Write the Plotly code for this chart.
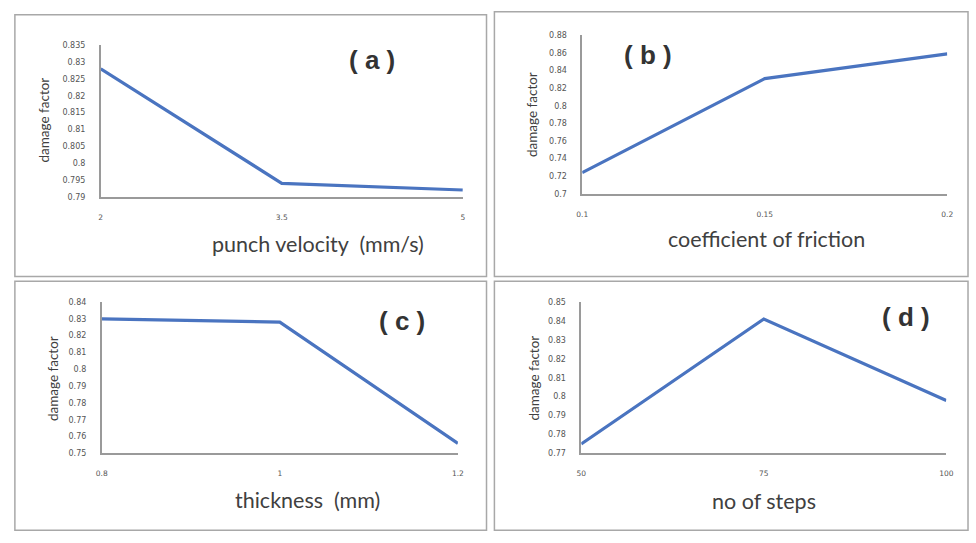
import plotly.graph_objects as go

W, H = 976, 543

# ---- data ----
velocity = [2, 3.5, 5]
damage_velocity = [0.828, 0.794, 0.792]

friction = [0.1, 0.15, 0.2]
damage_friction = [0.724, 0.831, 0.859]

thickness = [0.8, 1, 1.2]
damage_thickness = [0.830, 0.828, 0.756]

steps = [50, 75, 100]
damage_steps = [0.775, 0.841, 0.798]

vel_ticks = ["2", "3.5", "5"]
fric_ticks = ["0.1", "0.15", "0.2"]
thick_ticks = ["0.8", "1", "1.2"]
step_ticks = ["50", "75", "100"]

yt_a = [0.79, 0.795, 0.8, 0.805, 0.81, 0.815, 0.82, 0.825, 0.83, 0.835]
yt_b = [0.7, 0.72, 0.74, 0.76, 0.78, 0.8, 0.82, 0.84, 0.86, 0.88]
yt_c = [0.75, 0.76, 0.77, 0.78, 0.79, 0.8, 0.81, 0.82, 0.83, 0.84]
yt_d = [0.77, 0.78, 0.79, 0.8, 0.81, 0.82, 0.83, 0.84, 0.85]


def fmt(v):
    return f"{v:.3f}".rstrip("0").rstrip(".")


# panel layout in pixels: plot box (x0, x1, ytop, ybottom), frame, tag and title positions
panels = [
    dict(x=velocity, y=damage_velocity, xt=vel_ticks, yt=yt_a,
         box=(96, 463, 42, 196), frame=(9, 487, 11, 277),
         tag="a", tagpos=(371, 57), title="punch velocity  (mm/s)", titlepos=(316, 244),
         ytitlepos=(39, 118)),
    dict(x=friction, y=damage_friction, xt=fric_ticks, yt=yt_b,
         box=(584, 954, 32, 193), frame=(495, 975, 8, 277),
         tag="b", tagpos=(651, 52), title="coefficient of friction", titlepos=(771, 239),
         ytitlepos=(533, 112)),
    dict(x=thickness, y=damage_thickness, xt=thick_ticks, yt=yt_c,
         box=(97, 458, 303, 457), frame=(9, 487, 282, 535),
         tag="c", tagpos=(401, 322), title="thickness  (mm)", titlepos=(306, 504),
         ytitlepos=(47, 381)),
    dict(x=steps, y=damage_steps, xt=step_ticks, yt=yt_d,
         box=(583, 953, 303, 457), frame=(495, 975, 282, 535),
         tag="d", tagpos=(912, 318), title="no of steps", titlepos=(768, 505),
         ytitlepos=(535, 380)),
]

fig = go.Figure()
layout = dict(
    width=W, height=H, margin=dict(l=0, r=0, t=0, b=0),
    paper_bgcolor="white", plot_bgcolor="white", showlegend=False,
    shapes=[], annotations=[],
)

LINE = "#4a74c0"
AX = "#9a9a9a"
TXT = "#404040"

for i, p in enumerate(panels, start=1):
    sfx = "" if i == 1 else str(i)
    x0, x1, yt0, yb0 = p["box"]
    fig.add_trace(go.Scatter(
        x=p["x"], y=p["y"], mode="lines",
        line=dict(color=LINE, width=3.2),
        xaxis=f"x{sfx}", yaxis=f"y{sfx}", hoverinfo="skip",
    ))
    layout[f"xaxis{sfx}"] = dict(
        domain=[x0 / W, x1 / W], anchor=f"y{sfx}",
        range=[p["x"][0], p["x"][-1]],
        tickvals=p["x"], ticktext=p["xt"],
        showgrid=False, zeroline=False,
        showline=True, linecolor=AX, linewidth=1.5,
        ticks="outside", ticklen=12, tickcolor="rgba(0,0,0,0)",
        tickfont=dict(family="DejaVu Sans", size=7.5, color="#555"),
        fixedrange=True,
    )
    layout[f"yaxis{sfx}"] = dict(
        domain=[1 - yb0 / H, 1 - yt0 / H], anchor=f"x{sfx}",
        range=[p["yt"][0], p["yt"][-1]],
        tickvals=p["yt"], ticktext=[fmt(v) for v in p["yt"]],
        showgrid=False, zeroline=False,
        showline=True, linecolor=AX, linewidth=1.5,
        ticks="outside", ticklen=12, tickcolor="rgba(0,0,0,0)",
        tickfont=dict(family="DejaVu Sans", size=8, color="#555"),
        fixedrange=True,
    )
    fx0, fx1, fy0, fy1 = p["frame"]
    layout["shapes"].append(dict(
        type="rect", xref="paper", yref="paper",
        x0=fx0 / W, x1=fx1 / W, y0=1 - fy1 / H, y1=1 - fy0 / H,
        line=dict(color="#a8a8a8", width=1.5),
    ))
    tx, ty = p["tagpos"]
    layout["annotations"].append(dict(
        text=f"<b>(&nbsp;{p['tag']}&nbsp;)</b>", xref="paper", yref="paper",
        x=tx / W, y=1 - ty / H, xanchor="center", yanchor="middle",
        showarrow=False, font=dict(family="Liberation Sans", size=26, color="#333"),
    ))
    ax_, ay_ = p["titlepos"]
    layout["annotations"].append(dict(
        text=p["title"], xref="paper", yref="paper",
        x=ax_ / W, y=1 - ay_ / H, xanchor="center", yanchor="middle",
        showarrow=False, font=dict(family="Lato", size=21.5, color=TXT),
    ))
    yx, yy = p["ytitlepos"]
    layout["annotations"].append(dict(
        text="damage factor", xref="paper", yref="paper",
        x=yx / W, y=1 - yy / H, xanchor="center", yanchor="middle",
        textangle=-90, showarrow=False,
        font=dict(family="Lato", size=13.5, color=TXT),
    ))

fig.update_layout(**layout)
fig.write_html("out.html")
